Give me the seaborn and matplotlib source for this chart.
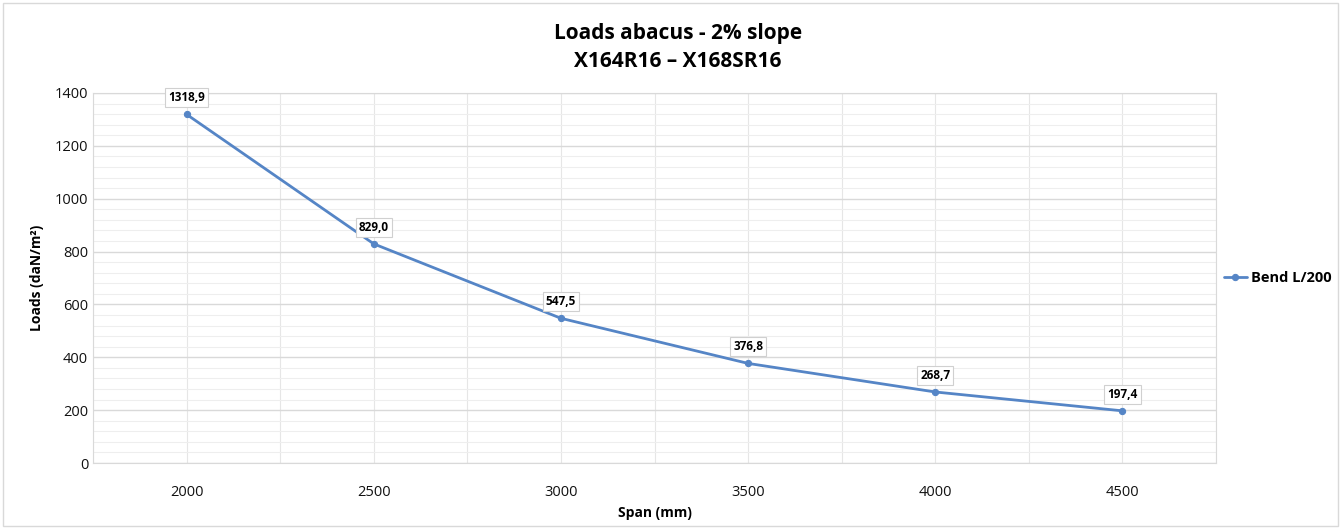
import matplotlib
matplotlib.use("Agg")
import matplotlib.pyplot as plt
import seaborn as sns
import pandas as pd
from matplotlib.patches import Rectangle
from matplotlib.ticker import MultipleLocator

# data
spans = ["2000", "2500", "3000", "3500", "4000", "4500"]
loads = [1318.9, 829.0, 547.5, 376.8, 268.7, 197.4]
series_name = "Bend L/200"

df = pd.DataFrame({"Span": spans, "Load": loads})

sns.set_style("white")
plt.rcParams["font.family"] = ["Open Sans", "DejaVu Sans"]

col = "#5585c6"
fig = plt.figure(figsize=(13.41, 5.28), dpi=100)
ax = fig.add_axes([0.0694, 0.1231, 0.8374, 0.7008])

sns.lineplot(data=df, x="Span", y="Load", ax=ax, color=col, marker="o",
             markersize=4.5, markeredgecolor=col, linewidth=2, label=series_name,
             sort=False)

ax.set_xlim(-0.5, len(spans) - 0.5)
ax.set_ylim(0, 1400)
ax.yaxis.set_major_locator(MultipleLocator(200))
ax.yaxis.set_minor_locator(MultipleLocator(40))
ax.xaxis.set_minor_locator(MultipleLocator(0.5))
ax.grid(True, which="major", axis="y", color="#d9d9d9", linewidth=1)
ax.grid(True, which="minor", axis="y", color="#eeeeee", linewidth=0.8)
ax.grid(True, which="both", axis="x", color="#e6e6e6", linewidth=0.8)
ax.set_axisbelow(True)
for s in ax.spines.values():
    s.set_color("#d9d9d9")
ax.tick_params(which="both", length=0, labelsize=10.5, colors="#111111")
ax.tick_params(axis="x", pad=16)

for i, v in enumerate(loads):
    ax.annotate(f"{v:.1f}".replace(".", ","), (i, v), xytext=(0, 12),
                textcoords="offset points", ha="center", va="center",
                fontsize=8.5, fontweight="bold", color="black",
                bbox=dict(boxstyle="square,pad=0.25", fc="white", ec="#d0d0d0", lw=0.8))

ax.set_xlabel("Span (mm)", fontsize=10, fontweight="bold", labelpad=4, color="black")
ax.set_ylabel("Loads (daN/m²)", fontsize=10, fontweight="bold", labelpad=8, color="black")
fig.text(0.5055, 0.9375, "Loads abacus - 2% slope", ha="center", va="center",
         fontsize=15, fontweight="bold", color="black")
fig.text(0.5055, 0.8826, "X164R16 – X168SR16", ha="center", va="center",
         fontsize=15, fontweight="bold", color="black")

leg = ax.legend(loc="center left", bbox_to_anchor=(0.995, 0.5), frameon=False,
                prop={"weight": "bold", "size": 10.5}, handlelength=1.6,
                handletextpad=0.3)
for t in leg.get_texts():
    t.set_color("black")

fig.patches.append(Rectangle((0.002, 0.004), 0.996, 0.99, transform=fig.transFigure,
                             fill=False, ec="#d9d9d9", lw=1))

plt.savefig("out.png", dpi=100)
